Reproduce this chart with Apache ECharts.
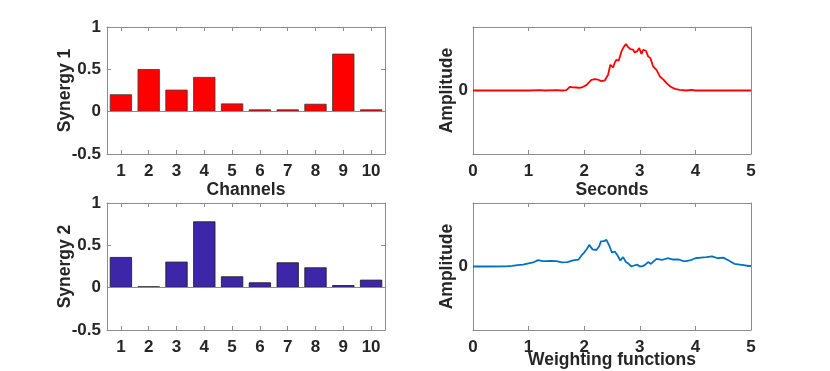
<!DOCTYPE html>
<html>
<head>
<meta charset="utf-8">
<script src="https://cdn.jsdelivr.net/npm/echarts@6/dist/echarts.min.js"></script>
<style>
  html, body { margin: 0; padding: 0; background: #fff; }
  #main { width: 830px; height: 371px; }
</style>
</head>
<body>
<div id="main"></div>
<script>
// channels and synergy weights
var channels = ['1', '2', '3', '4', '5', '6', '7', '8', '9', '10'];
var synergy1 = [0.205, 0.503, 0.26, 0.41, 0.097, 0.027, 0.027, 0.093, 0.685, 0.027];
var synergy2 = [0.362, 0.016, 0.307, 0.783, 0.134, 0.063, 0.299, 0.24, 0.03, 0.094];

// weighting functions (seconds / amplitude)
var t1 = [0, 0.5, 1.0, 1.2, 1.3, 1.5, 1.6, 1.68, 1.74, 1.8,
  1.86, 1.92, 1.98, 2.04, 2.09, 2.13, 2.19, 2.25, 2.31, 2.37,
  2.43, 2.47, 2.52, 2.55, 2.58, 2.62, 2.67, 2.71, 2.75, 2.79,
  2.83, 2.88, 2.91, 2.95, 2.99, 3.03, 3.06, 3.11, 3.15, 3.19,
  3.24, 3.30, 3.36, 3.43, 3.48, 3.55, 3.63, 3.72, 3.84, 3.93,
  4.0, 4.5, 5.0];
var amp1 = [0, 0, 0, 0.005, 0, 0.006, 0, 0.005, 0.058, 0.05,
  0.047, 0.04, 0.058, 0.084, 0.13, 0.168, 0.18, 0.17, 0.147, 0.158,
  0.247, 0.405, 0.363, 0.44, 0.484, 0.468, 0.616, 0.684, 0.73, 0.684,
  0.653, 0.642, 0.6, 0.616, 0.668, 0.574, 0.642, 0.626, 0.537, 0.51,
  0.379, 0.326, 0.221, 0.168, 0.116, 0.063, 0.026, 0.01, 0, 0.01,
  0, 0, 0];
var t2 = [0, 0.3, 0.6, 0.7, 0.8, 0.9, 1.0, 1.1, 1.17, 1.25,
  1.3, 1.4, 1.5, 1.6, 1.7, 1.8, 1.9, 1.95, 2.0, 2.05,
  2.09, 2.15, 2.22, 2.27, 2.3, 2.35, 2.4, 2.45, 2.5, 2.55,
  2.6, 2.65, 2.7, 2.75, 2.8, 2.85, 2.9, 2.95, 3.0, 3.05,
  3.1, 3.15, 3.2, 3.3, 3.4, 3.5, 3.6, 3.7, 3.8, 3.9,
  4.0, 4.1, 4.2, 4.3, 4.4, 4.5, 4.6, 4.7, 4.8, 4.9,
  5.0];
var amp2 = [0, 0, 0.003, 0.01, 0.02, 0.03, 0.05, 0.07, 0.1, 0.084,
  0.085, 0.09, 0.085, 0.065, 0.07, 0.095, 0.11, 0.174, 0.22, 0.28,
  0.34, 0.27, 0.26, 0.32, 0.395, 0.4, 0.42, 0.33, 0.216, 0.237,
  0.174, 0.095, 0.147, 0.07, 0.042, 0.0, 0.016, 0.03, 0.0, 0.005,
  0.03, 0.07, 0.04, 0.12, 0.105, 0.13, 0.11, 0.11, 0.08, 0.095,
  0.13, 0.14, 0.147, 0.158, 0.13, 0.14, 0.095, 0.042, 0.03, 0.016,
  0.005];

function pairs(xs, ys) {
  return xs.map(function (x, i) { return [x, ys[i]]; });
}

var axisColor = '#8c8c8c';
var textColor = '#262626';
var font = 'Liberation Sans, Arial, sans-serif';

var lineStyle = { color: axisColor, width: 1 };
var tick = { show: true, inside: true, length: 4, lineStyle: { color: axisColor } };
var label = { color: textColor, fontSize: 17, fontWeight: 'bold', fontFamily: font };
var nameStyle = { color: textColor, fontSize: 17.5, fontWeight: 'bold', fontFamily: font };

var grids = [
  { left: 107, top: 27, width: 278, height: 127 },
  { left: 107, top: 203, width: 278, height: 127 },
  { left: 473, top: 27, width: 278, height: 127 },
  { left: 473, top: 203, width: 278, height: 127 }
];

var xAxes = [];
var yAxes = [];

// bar panels
[0, 1].forEach(function (g) {
  xAxes.push({
    type: 'category', gridIndex: g, data: channels, position: 'bottom',
    boundaryGap: true,
    name: g === 0 ? 'Channels' : '', nameLocation: 'middle', nameGap: 27, nameTextStyle: nameStyle,
    nameMoveOverlap: false,
    axisLine: { onZero: false, lineStyle: lineStyle },
    axisTick: { show: true, inside: true, length: 4, alignWithLabel: true, lineStyle: { color: axisColor } },
    axisLabel: Object.assign({ margin: 9 }, label)
  });
  xAxes.push({
    type: 'category', gridIndex: g, data: channels, position: 'top',
    axisLine: { onZero: false, lineStyle: lineStyle },
    axisTick: { show: true, inside: true, length: 4, alignWithLabel: true, lineStyle: { color: axisColor } },
    axisLabel: { show: false }
  });
  yAxes.push({
    type: 'value', gridIndex: g, min: -0.5, max: 1, interval: 0.5, position: 'left',
    name: 'Synergy ' + (g + 1), nameLocation: 'middle', nameGap: 33, nameTextStyle: nameStyle,
    nameMoveOverlap: false,
    axisLine: { show: true, onZero: false, lineStyle: lineStyle },
    axisTick: tick, splitLine: { show: false },
    axisLabel: Object.assign({ margin: 6 }, label)
  });
  yAxes.push({
    type: 'value', gridIndex: g, min: -0.5, max: 1, interval: 0.5, position: 'right',
    axisLine: { show: true, onZero: false, lineStyle: lineStyle },
    axisTick: tick, splitLine: { show: false }, axisLabel: { show: false }
  });
});

// weighting function panels
[2, 3].forEach(function (g) {
  xAxes.push({
    type: 'value', gridIndex: g, min: 0, max: 5, interval: 1, position: 'bottom',
    name: g === 2 ? 'Seconds' : 'Weighting functions', nameLocation: 'middle',
    nameGap: g === 2 ? 27 : 21, nameTextStyle: nameStyle, nameMoveOverlap: false,
    axisLine: { onZero: false, lineStyle: lineStyle },
    axisTick: tick, splitLine: { show: false },
    axisLabel: Object.assign({ margin: 9 }, label)
  });
  xAxes.push({
    type: 'value', gridIndex: g, min: 0, max: 5, interval: 1, position: 'top',
    axisLine: { onZero: false, lineStyle: lineStyle },
    axisTick: tick, splitLine: { show: false }, axisLabel: { show: false }
  });
  yAxes.push({
    type: 'value', gridIndex: g, min: -1, max: 1, interval: 1, position: 'left',
    name: 'Amplitude', nameLocation: 'middle', nameGap: 17, nameTextStyle: nameStyle,
    nameMoveOverlap: false,
    axisLine: { show: true, onZero: false, lineStyle: lineStyle },
    axisTick: tick, splitLine: { show: false },
    axisLabel: Object.assign({ margin: 5, formatter: function (v) { return v === 0 ? '0' : ''; } }, label)
  });
  yAxes.push({
    type: 'value', gridIndex: g, min: -1, max: 1, interval: 1, position: 'right',
    axisLine: { show: true, onZero: false, lineStyle: lineStyle },
    axisTick: tick, splitLine: { show: false }, axisLabel: { show: false }
  });
});

function zeroLine(color) {
  return {
    silent: true, symbol: 'none', label: { show: false },
    lineStyle: { color: color, type: 'solid', width: 1 },
    data: [{ yAxis: 0 }]
  };
}

var chart = echarts.init(document.getElementById('main'));
chart.setOption({
  animation: false,
  backgroundColor: '#fff',
  grid: grids,
  xAxis: xAxes,
  yAxis: yAxes,
  series: [
    {
      type: 'bar', xAxisIndex: 0, yAxisIndex: 0, data: synergy1,
      barCategoryGap: '20%',
      itemStyle: { color: '#ff0000', borderColor: '#3a3a3a', borderWidth: 0.8 },
      markLine: zeroLine('#8c8c8c')
    },
    {
      type: 'bar', xAxisIndex: 2, yAxisIndex: 2, data: synergy2,
      barCategoryGap: '20%',
      itemStyle: { color: '#3e26a8', borderColor: '#1a1a1a', borderWidth: 0.8 },
      markLine: zeroLine('#8c8c8c')
    },
    {
      type: 'line', xAxisIndex: 4, yAxisIndex: 4, data: pairs(t1, amp1),
      showSymbol: false, z: 5, lineStyle: { color: '#ff0000', width: 1.8 }
    },
    {
      type: 'line', xAxisIndex: 6, yAxisIndex: 6, data: pairs(t2, amp2),
      showSymbol: false, z: 5, lineStyle: { color: '#0072bd', width: 1.8 }
    }
  ]
});
</script>
</body>
</html>
